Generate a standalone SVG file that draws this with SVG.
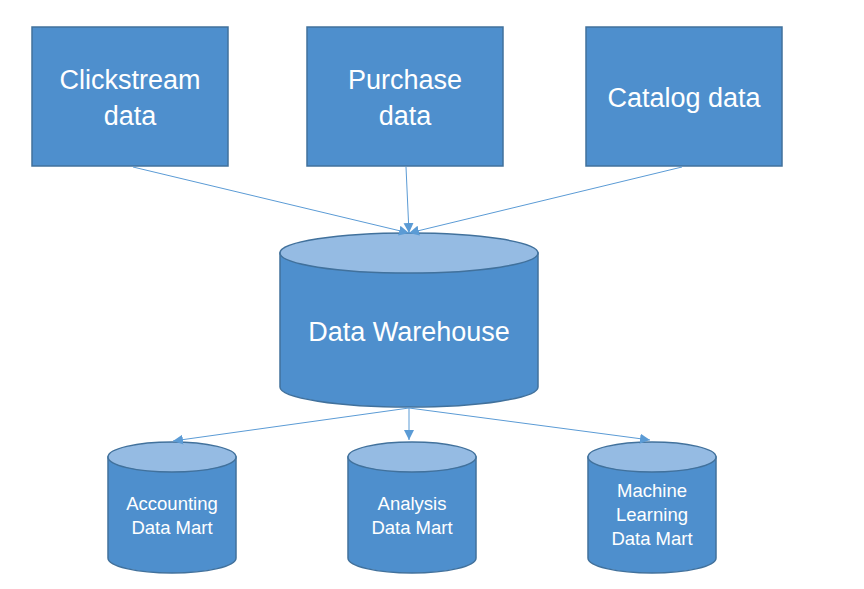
<svg xmlns="http://www.w3.org/2000/svg" width="864" height="589" viewBox="0 0 864 589">
<style>
.box{fill:#4E8FCD;stroke:#41719C;stroke-width:1.5}
.body{fill:#4E8FCD;stroke:#41719C;stroke-width:1.5}
.top{fill:#95BBE3;stroke:#41719C;stroke-width:1.5}
.lbl{font-family:"Liberation Sans",Arial,sans-serif;fill:#FFFFFF;text-anchor:middle}
.big{font-size:27px}
.sm{font-size:18.5px}
.con{stroke:#5B9BD5;stroke-width:1;fill:none;marker-end:url(#arr)}
</style>
<defs>
<marker id="arr" markerUnits="userSpaceOnUse" markerWidth="12" markerHeight="11" refX="10" refY="5" orient="auto">
<path d="M0,0 L10,5 L0,10 Z" fill="#5B9BD5"/>
</marker>
</defs>
<rect width="864" height="589" fill="#FFFFFF"/>
<g id="clickstream">
<rect class="box" x="32" y="27" width="196" height="139"/>
<text class="lbl big" x="130" y="89">Clickstream</text>
<text class="lbl big" x="130" y="125">data</text>
</g>
<g id="purchase">
<rect class="box" x="307" y="27" width="196" height="139"/>
<text class="lbl big" x="405" y="89">Purchase</text>
<text class="lbl big" x="405" y="125">data</text>
</g>
<g id="catalog">
<rect class="box" x="586" y="27" width="196" height="139"/>
<text class="lbl big" x="684" y="107">Catalog data</text>
</g>
<g id="warehouse">
<path class="body" d="M280,253 V387 A129,20 0 0 0 538,387 V253 Z"/>
<ellipse class="top" cx="409" cy="253" rx="129" ry="20"/>
<text class="lbl big" x="409" y="341">Data Warehouse</text>
</g>
<g id="accounting">
<path class="body" d="M108,457 V558 A64,15 0 0 0 236,558 V457 Z"/>
<ellipse class="top" cx="172" cy="457" rx="64" ry="15"/>
<text class="lbl sm" x="172" y="510">Accounting</text>
<text class="lbl sm" x="172" y="534">Data Mart</text>
</g>
<g id="analysis">
<path class="body" d="M348,457 V558 A64,15 0 0 0 476,558 V457 Z"/>
<ellipse class="top" cx="412" cy="457" rx="64" ry="15"/>
<text class="lbl sm" x="412" y="510">Analysis</text>
<text class="lbl sm" x="412" y="534">Data Mart</text>
</g>
<g id="ml">
<path class="body" d="M588,457 V558 A64,15 0 0 0 716,558 V457 Z"/>
<ellipse class="top" cx="652" cy="457" rx="64" ry="15"/>
<text class="lbl sm" x="652" y="497">Machine</text>
<text class="lbl sm" x="652" y="521">Learning</text>
<text class="lbl sm" x="652" y="545">Data Mart</text>
</g>
<g id="connectors">
<line class="con" x1="133" y1="167" x2="409" y2="233"/>
<line class="con" x1="406" y1="167" x2="409" y2="233"/>
<line class="con" x1="682" y1="167" x2="409" y2="233"/>
<line class="con" x1="409" y1="408" x2="173" y2="441"/>
<line class="con" x1="409" y1="408" x2="409" y2="440"/>
<line class="con" x1="409" y1="408" x2="650" y2="440"/>
</g>
</svg>
